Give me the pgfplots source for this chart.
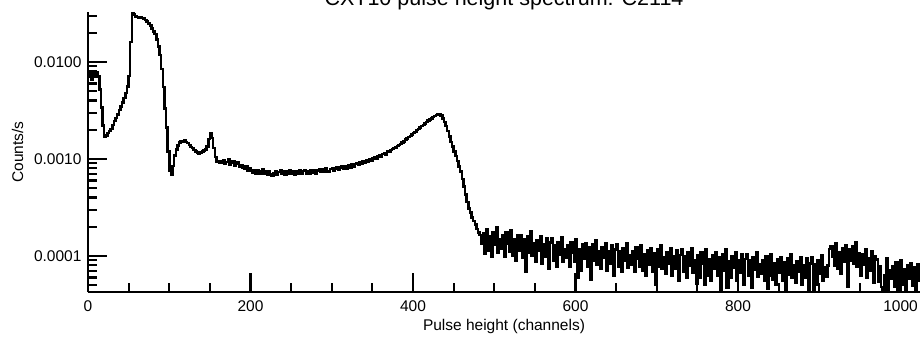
\documentclass[border=0pt]{standalone}
\usepackage{fontspec}
\setmainfont{Liberation Sans}
\usepackage{pgfplots}
\pgfplotsset{compat=1.18}
\begin{document}
\begin{tikzpicture}
\begin{axis}[
  at={(88pt,47pt)}, anchor=south west,
  scale only axis, width=832pt, height=280pt,
  ymode=log, xmin=0, xmax=1024, ymin=4.25e-5, ymax=0.0327,
  axis lines=left, axis line style={-, line width=2.2pt},
  tick align=inside, major tick length=19pt, minor tick length=9.5pt,
  every tick/.append style={black, line width=2.2pt},
  xtick={0,200,...,1000}, minor x tick num=3,
  ytick={1e-4,1e-3,1e-2}, yticklabels={0.0001,0.0010,0.0100},
  minor ytick={5e-5,6e-5,7e-5,8e-5,9e-5,2e-4,3e-4,4e-4,5e-4,6e-4,7e-4,8e-4,9e-4,2e-3,3e-3,4e-3,5e-3,6e-3,7e-3,8e-3,9e-3,2e-2,3e-2},
  /pgf/number format/assume math mode=true,
  /pgf/number format/1000 sep={},
  tick label style={font=\fontsize{15.5}{18}\selectfont},
  xticklabel style={yshift=-5pt}, yticklabel style={xshift=-3pt},
  xlabel={Pulse height (channels)}, ylabel={Counts/s},
  label style={font=\fontsize{15.5}{18}\selectfont},
  xlabel style={at={(axis description cs:0.5,0)}, anchor=base, yshift=-38pt},
  ylabel style={at={(axis description cs:-0.0847,0.5)}, anchor=center},
  title={CXT10 pulse height spectrum: C2114},
  title style={at={(axis description cs:0.5,1)}, anchor=base, yshift=1pt, font=\fontsize{21.5}{24}\selectfont},
]
\addplot[const plot mark left, black, line width=2.5pt, mark=none] coordinates {
(0,0.0072)(2,0.0078)(4,0.0066)(6,0.0080)(8,0.0074)(10,0.0079)(12,0.0071)(14,0.0052)(16,0.0034)(18,0.0022)
(20,0.0017)(22,0.00174)(24,0.00186)(26,0.00195)(28,0.00204)(30,0.00224)(32,0.00245)(34,0.00263)(36,0.00288)(38,0.0032)
(40,0.00347)(42,0.0038)(44,0.00427)(46,0.0048)(48,0.0056)(50,0.0072)(52,0.016)(54,0.0325)(56,0.031)(58,0.0295)
(60,0.029)(62,0.0288)(64,0.0286)(66,0.0284)(68,0.028)(70,0.0272)(72,0.0262)(74,0.025)(76,0.0238)(78,0.0222)
(80,0.0207)(82,0.0195)(84,0.017)(86,0.0145)(88,0.0118)(90,0.0085)(92,0.0055)(94,0.0033)(96,0.0021)(98,0.0012)
(100,0.00075)(102,0.00068)(104,0.00085)(106,0.00108)(108,0.00125)(110,0.00138)(112,0.00148)(114,0.00152)(116,0.00149)(118,0.00154)
(120,0.0015)(122,0.00146)(124,0.0014)(126,0.00132)(128,0.0013)(130,0.00124)(132,0.0012)(134,0.00117)(136,0.00112)(138,0.00116)
(140,0.00119)(142,0.00122)(144,0.00125)(146,0.00135)(148,0.0016)(150,0.00185)(152,0.00165)(154,0.0013)(156,0.00105)(158,0.00094)
(160,0.00095)(162,0.00091)(164,0.00094)(166,0.00096)(168,0.00089)(170,0.00093)(172,0.00099)(174,0.00087)(176,0.00092)(178,0.00094)
(180,0.00085)(182,0.00089)(184,0.00093)(186,0.00083)(188,0.00087)(190,0.00081)(192,0.00079)(194,0.00084)(196,0.00076)(198,0.0008)
(200,0.00076)(202,0.00072)(204,0.00077)(206,0.00071)(208,0.00076)(210,0.0007)(212,0.00075)(214,0.00078)(216,0.00071)(218,0.00075)
(220,0.00069)(222,0.00074)(224,0.0007)(226,0.00067)(228,0.00071)(230,0.00074)(232,0.00068)(234,0.00073)(236,0.00076)(238,0.0007)
(240,0.00074)(242,0.00069)(244,0.00075)(246,0.00071)(248,0.00077)(250,0.0007)(252,0.00074)(254,0.00069)(256,0.00075)(258,0.00071)
(260,0.00076)(262,0.0007)(264,0.00075)(266,0.00077)(268,0.00071)(270,0.00075)(272,0.0007)(274,0.00076)(276,0.00072)(278,0.00077)
(280,0.00071)(282,0.00076)(284,0.00079)(286,0.00073)(288,0.00078)(290,0.00074)(292,0.0008)(294,0.00075)(296,0.00073)(298,0.00079)
(300,0.00081)(302,0.00075)(304,0.0008)(306,0.00083)(308,0.00077)(310,0.00082)(312,0.00085)(314,0.00079)(316,0.00084)(318,0.0008)
(320,0.00086)(322,0.00082)(324,0.00088)(326,0.00083)(328,0.00089)(330,0.0009)(332,0.00087)(334,0.00093)(336,0.00089)(338,0.00095)
(340,0.00092)(342,0.00097)(344,0.00094)(346,0.001)(348,0.00096)(350,0.00102)(352,0.00104)(354,0.001)(356,0.00107)(358,0.00109)
(360,0.00105)(362,0.00113)(364,0.00115)(366,0.00111)(368,0.00119)(370,0.0012)(372,0.00123)(374,0.00126)(376,0.00129)(378,0.00131)
(380,0.00136)(382,0.00139)(384,0.00143)(386,0.00148)(388,0.00152)(390,0.00158)(392,0.00163)(394,0.00168)(396,0.00172)(398,0.00179)
(400,0.00185)(402,0.0019)(404,0.00198)(406,0.00204)(408,0.0021)(410,0.00218)(412,0.00225)(414,0.00232)(416,0.0024)(418,0.00248)
(420,0.00256)(422,0.00262)(424,0.0027)(426,0.00278)(428,0.00284)(430,0.00288)(432,0.0029)(434,0.00282)(436,0.00262)(438,0.0024)
(440,0.00218)(442,0.00195)(444,0.0017)(446,0.0015)(448,0.00134)(450,0.0012)(452,0.00107)(454,0.00095)(456,0.00084)(458,0.00074)
(460,0.00062)(462,0.00052)(464,0.00043)(466,0.00036)(468,0.00031)(470,0.00028)(472,0.00025)(474,0.00023)(476,0.00021)(478,0.00019)
(480,1.75e-4)(482,1.65e-4)(484,1.35e-4)(486,1.70e-4)(488,1.05e-4)
(490,1.89e-4)(492,1.12e-4)(494,1.61e-4)(496,0.98e-4)(498,1.75e-4)(500,1.29e-4)(502,1.96e-4)(504,1.09e-4)(506,1.47e-4)(508,1.19e-4)
(510,1.62e-4)(512,0.97e-4)(514,1.76e-4)(516,1.35e-4)(518,1.11e-4)(520,1.86e-4)(522,1.01e-4)(524,1.49e-4)(526,0.89e-4)(528,1.65e-4)
(530,1.13e-4)(532,1.65e-4)(534,0.95e-4)(536,1.48e-4)(538,0.69e-4)(540,1.60e-4)(542,1.08e-4)(544,1.78e-4)(546,1.00e-4)(548,1.35e-4)
(550,0.87e-4)(552,1.46e-4)(554,1.12e-4)(556,1.60e-4)(558,0.83e-4)(560,1.32e-4)(562,0.99e-4)(564,1.53e-4)(566,0.73e-4)(568,1.37e-4)
(570,1.51e-4)(572,0.90e-4)(574,1.29e-4)(576,0.78e-4)(578,1.40e-4)(580,1.03e-4)(582,1.57e-4)(584,0.87e-4)(586,1.18e-4)(588,0.95e-4)
(590,1.28e-4)(592,0.77e-4)(594,1.39e-4)(596,1.07e-4)(598,0.88e-4)(600,1.48e-4)(602,0.60e-4)(604,1.18e-4)(606,0.71e-4)(608,1.31e-4)
(610,0.93e-4)(612,1.36e-4)(614,0.78e-4)(616,1.22e-4)(618,0.57e-4)(620,1.32e-4)(622,0.89e-4)(624,1.46e-4)(626,0.82e-4)(628,1.11e-4)
(630,0.74e-4)(632,1.24e-4)(634,0.95e-4)(636,1.36e-4)(638,0.70e-4)(640,1.12e-4)(642,0.84e-4)(644,1.30e-4)(646,0.62e-4)(648,1.16e-4)
(650,1.31e-4)(652,0.78e-4)(654,1.12e-4)(656,0.68e-4)(658,1.21e-4)(660,0.89e-4)(662,1.36e-4)(664,0.76e-4)(666,1.02e-4)(668,0.82e-4)
(670,1.13e-4)(672,0.68e-4)(674,1.22e-4)(676,0.94e-4)(678,0.77e-4)(680,1.30e-4)(682,0.71e-4)(684,1.03e-4)(686,0.62e-4)(688,1.15e-4)
(690,0.82e-4)(692,1.20e-4)(694,0.69e-4)(696,1.07e-4)(698,0.50e-4)(700,1.16e-4)(702,0.78e-4)(704,1.29e-4)(706,0.73e-4)(708,0.98e-4)
(710,0.65e-4)(712,1.09e-4)(714,0.84e-4)(716,1.20e-4)(718,0.62e-4)(720,0.99e-4)(722,0.74e-4)(724,1.14e-4)(726,0.55e-4)(728,1.02e-4)
(730,1.16e-4)(732,0.69e-4)(734,0.99e-4)(736,0.60e-4)(738,1.08e-4)(740,0.79e-4)(742,1.20e-4)(744,0.67e-4)(746,0.90e-4)(748,0.52e-4)
(750,1.01e-4)(752,0.60e-4)(754,1.09e-4)(756,0.84e-4)(758,0.50e-4)(760,1.16e-4)(762,0.63e-4)(764,0.92e-4)(766,0.55e-4)(768,1.02e-4)
(770,0.74e-4)(772,1.08e-4)(774,0.62e-4)(776,0.97e-4)(778,0.45e-4)(780,1.05e-4)(782,0.71e-4)(784,1.16e-4)(786,0.47e-4)(788,0.89e-4)
(790,0.59e-4)(792,0.99e-4)(794,0.76e-4)(796,1.09e-4)(798,0.56e-4)(800,0.90e-4)(802,0.67e-4)(804,1.04e-4)(806,0.50e-4)(808,0.93e-4)
(810,1.05e-4)(812,0.62e-4)(814,0.90e-4)(816,0.47e-4)(818,0.98e-4)(820,0.72e-4)(822,1.09e-4)(824,0.61e-4)(826,0.82e-4)(828,0.66e-4)
(830,0.91e-4)(832,0.55e-4)(834,0.99e-4)(836,0.46e-4)(838,0.62e-4)(840,1.05e-4)(842,0.57e-4)(844,0.84e-4)(846,0.50e-4)(848,0.93e-4)
(850,0.67e-4)(852,0.98e-4)(854,0.56e-4)(856,0.87e-4)(858,0.44e-4)(860,0.95e-4)(862,0.64e-4)(864,1.05e-4)(866,0.59e-4)(868,0.80e-4)
(870,0.53e-4)(872,0.89e-4)(874,0.68e-4)(876,0.98e-4)(878,0.50e-4)(880,0.81e-4)(882,0.60e-4)(884,0.94e-4)(886,0.43e-4)(888,0.84e-4)
(890,0.97e-4)(892,0.44e-4)(894,0.83e-4)(896,0.50e-4)(898,0.90e-4)(900,0.66e-4)(902,1.01e-4)(904,0.56e-4)(906,0.76e-4)(908,0.61e-4)
(910,0.80e-4)(912,1.18e-4)(914,1.27e-4)(916,0.98e-4)(918,0.80e-4)(920,1.35e-4)(922,0.74e-4)(924,1.08e-4)(926,0.65e-4)(928,1.20e-4)
(930,0.88e-4)(932,1.29e-4)(934,0.48e-4)(936,1.16e-4)(938,0.90e-4)(940,1.25e-4)(942,0.84e-4)(944,1.39e-4)(946,0.78e-4)(948,1.06e-4)
(950,0.63e-4)(952,1.05e-4)(954,0.81e-4)(956,1.16e-4)(958,0.60e-4)(960,0.95e-4)(962,0.71e-4)(964,1.11e-4)(966,0.53e-4)(968,0.99e-4)
(970,0.92e-4)(972,0.54e-4)(974,0.78e-4)(976,0.48e-4)(978,0.44e-4)(980,0.63e-4)(982,0.95e-4)(984,0.44e-4)(986,0.71e-4)(988,0.58e-4)
(990,0.79e-4)(992,0.48e-4)(994,0.86e-4)(996,0.45e-4)(998,0.54e-4)(1000,0.91e-4)(1002,0.50e-4)(1004,0.73e-4)(1006,0.44e-4)(1008,0.81e-4)
(1010,0.58e-4)(1012,0.84e-4)(1014,0.49e-4)(1016,0.76e-4)(1018,0.44e-4)(1020,0.82e-4)(1022,0.55e-4)(1024,0.55e-4)
};
\end{axis}
\pgfresetboundingbox
\useasboundingbox (0,0) rectangle (924pt,339pt);
\end{tikzpicture}
\end{document}
